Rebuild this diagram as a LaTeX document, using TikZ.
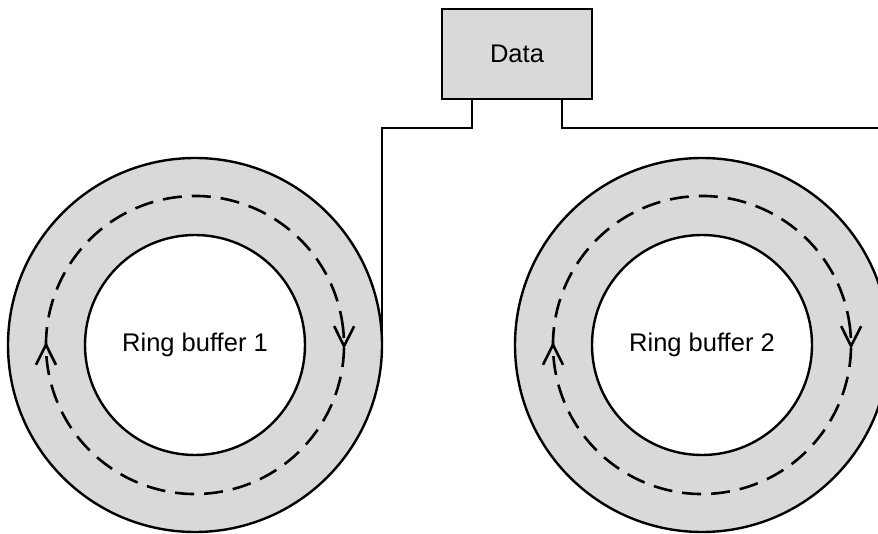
\documentclass[tikz,border=0pt]{standalone}
\usepackage{fontspec}
\setmainfont{Liberation Sans}
\usetikzlibrary{decorations.markings}
\definecolor{ringgray}{RGB}{217,217,217}
\begin{document}
\begin{tikzpicture}[x=1pt,y=-1pt,line width=2.4pt,
  ring/.style={circle,draw,fill=ringgray,minimum size=374pt,inner sep=0pt,outer sep=0pt},
  hole/.style={circle,draw,fill=white,minimum size=220pt,inner sep=0pt,outer sep=0pt,font=\fontsize{25.5}{30}\selectfont},
  databox/.style={rectangle,draw,fill=ringgray,minimum width=150pt,minimum height=90pt,inner sep=0pt,outer sep=0pt,font=\fontsize{25.5}{30}\selectfont},
  vhead/.style={solid,line width=2.6pt,line join=miter},
  flowpath/.style={line width=2.6pt,dash pattern=on 19pt off 10pt,postaction={decorate},
    decoration={markings,
      mark=at position 0.029 with {\draw[vhead] (-20pt,-10pt) -- (0pt,0pt) -- (-20pt,10pt);},
      mark=at position 0.528 with {\draw[vhead] (-20pt,-10pt) -- (0pt,0pt) -- (-20pt,10pt);}}},
  link/.style={line width=2.4pt}
]
\useasboundingbox (0,0) rectangle (878,534);
\clip (0,0) rectangle (878,534);
\node[databox] (data) at (517,54) {Data};
\node[ring] (r1) at (195,345) {};
\node[hole] (h1) at (195,345) {Ring buffer 1};
\draw[flowpath] (r1.center) ++(-10:149) arc[start angle=-10,end angle=350,radius=149];
\node[ring] (r2) at (702,345) {};
\node[hole] (h2) at (702,345) {Ring buffer 2};
\draw[flowpath] (r2.center) ++(-10:149) arc[start angle=-10,end angle=350,radius=149];
\draw[link] ([xshift=-45pt]data.south) -- ++(0,29) -| (r1.east);
\draw[link] ([xshift=45pt]data.south) -- ++(0,29) -| (r2.east);
\end{tikzpicture}
\end{document}
